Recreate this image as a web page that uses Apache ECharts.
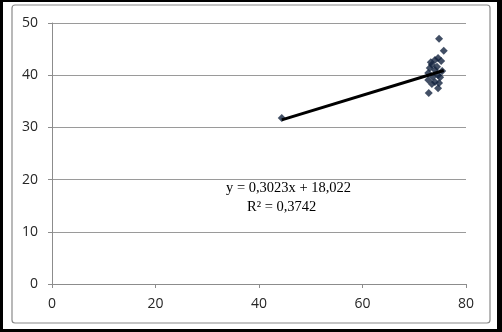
<!DOCTYPE html>
<html><head><meta charset="utf-8">
<script src="https://cdn.jsdelivr.net/npm/echarts@6/dist/echarts.min.js"></script>
<style>
html,body{margin:0;padding:0;background:#000;width:502px;height:332px;overflow:hidden}
#c{position:absolute;left:3px;top:2px;width:494px;height:327px;background:#fff}
</style></head><body><div id="c"></div>
<script>
var xValues = [44.4, 74.8, 75.7, 74.6, 74.0, 73.2, 75.2, 73.4, 74.4, 73.0, 74.0, 75.4, 72.7, 74.6, 73.6, 75.0, 72.7, 74.0, 74.8, 73.4, 74.6, 72.8];
var yValues = [31.8, 47.0, 44.7, 43.3, 42.9, 42.5, 42.7, 42.0, 41.6, 41.4, 41.0, 40.8, 40.4, 40.0, 39.7, 39.6, 39.1, 38.7, 38.5, 38.3, 37.5, 36.6];
var slope = 0.3023, intercept = 18.022;
var eqLine1 = 'y = 0,3023x + 18,022';
var eqLine2 = 'R² = 0,3742';
var xTicks = [0, 20, 40, 60, 80];
var yTicks = [0, 10, 20, 30, 40, 50];

var pts = xValues.map(function(x, i){ return [x, yValues[i]]; });
var xmin = Math.min.apply(null, xValues), xmax = Math.max.apply(null, xValues);
var trend = [[xmin, slope*xmin+intercept], [xmax, slope*xmax+intercept]];

var chart = echarts.init(document.getElementById('c'));
chart.setOption({
  animation: false,
  graphic: [
    {type:'rect', shape:{x:9, y:3, width:478, height:318, r:3}, style:{fill:'none', stroke:'#8a8a8a', lineWidth:1.2}, z:-1},
    {type:'text', left:223, top:179, style:{text:eqLine1, font:'14.5px "Liberation Serif", serif', fill:'#000'}},
    {type:'text', left:244, top:198, style:{text:eqLine2, font:'14.5px "Liberation Serif", serif', fill:'#000'}}
  ],
  grid: {left:49, top:21, right:31, bottom:45},
  xAxis: {
    type:'value', min:0, max:80, interval:20,
    axisLine:{show:true, lineStyle:{color:'#8c8c8c', width:1}},
    axisTick:{show:true, length:4, lineStyle:{color:'#8c8c8c'}},
    splitLine:{show:false},
    axisLabel:{color:'#262626', fontSize:14, fontFamily:'"Open Sans", sans-serif', margin:13}
  },
  yAxis: {
    type:'value', min:0, max:50, interval:10,
    axisLine:{show:true, lineStyle:{color:'#8c8c8c', width:1}},
    axisTick:{show:true, length:4, lineStyle:{color:'#8c8c8c'}},
    splitLine:{show:true, lineStyle:{color:'#9a9a9a', width:1}},
    axisLabel:{color:'#262626', fontSize:14, fontFamily:'"Open Sans", sans-serif', margin:14}
  },
  series: [
    {type:'scatter', data:pts, symbol:'diamond', symbolSize:8, itemStyle:{color:'#13233f'}, z:3},
    {type:'line', data:trend, symbol:'none', lineStyle:{color:'#000', width:3}, z:4}
  ]
});
</script></body></html>
